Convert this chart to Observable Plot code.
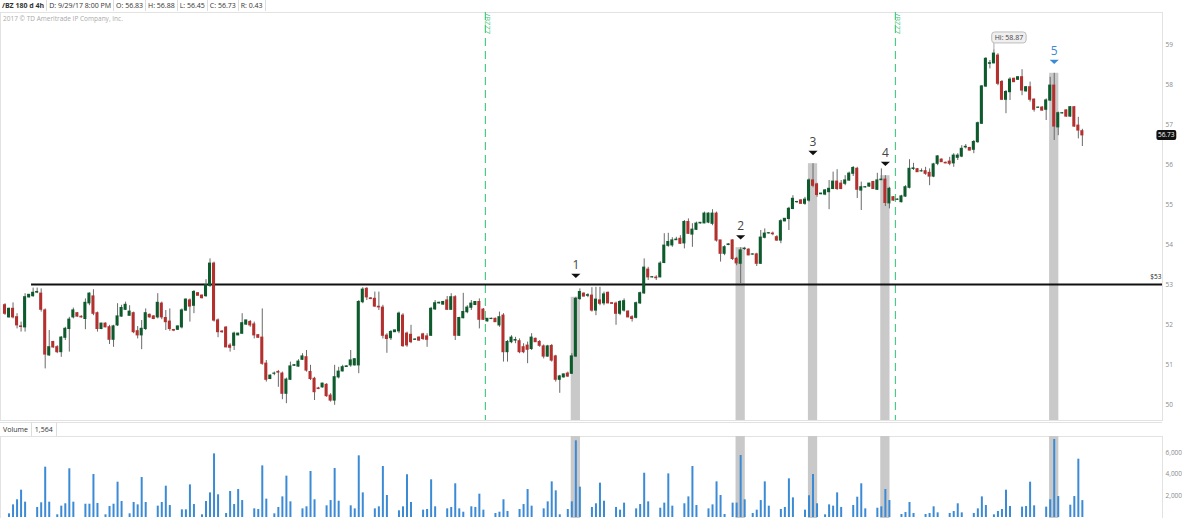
<!DOCTYPE html>
<html><head><meta charset="utf-8">
<script src="https://cdn.jsdelivr.net/npm/d3@7"></script>
<script src="https://cdn.jsdelivr.net/npm/@observablehq/plot@0.6"></script>
<style>
body{margin:0;background:#fff;font-family:"Open Sans",sans-serif;}
#wrap{position:relative;width:1200px;height:518px;overflow:hidden;background:#fff}
.abs{position:absolute;left:0}
#hdr{top:0;height:11px;display:flex;font-size:7px;color:#333;line-height:11px}
#hdr span{padding:0 2px;border-right:1px solid #ddd;white-space:nowrap}
#hdr span.b{font-weight:bold}
#copy{top:14px;left:3px;font-size:6.5px;color:#aaa;white-space:nowrap}
#volhdr{top:422px;height:13px;width:1162px;display:flex;font-size:7px;color:#333;line-height:13px;border-top:1px solid #e2e2e2;border-bottom:1px solid #e2e2e2;background:#fff}
#volhdr span{padding:0 3px;border-right:1px solid #ddd}
</style></head><body><div id="wrap"></div><script>
// ---------------- data ----------------
const open = [52.48,52.18,52.39,52.18,51.95,51.93,52.68,52.71,52.80,52.77,
52.35,51.23,51.56,51.43,51.31,51.67,51.89,52.18,52.28,52.19,
52.14,52.53,52.70,52.28,51.89,52.02,51.93,51.62,51.98,52.20,
52.37,52.22,52.28,51.83,51.73,51.89,52.24,52.20,52.18,52.52,
52.16,52.07,51.86,51.87,51.93,52.35,52.60,52.47,52.78,52.72,
52.71,52.97,53.52,52.10,51.82,51.92,51.47,51.47,51.73,51.77,
52.00,52.06,52.00,51.73,51.67,51.02,50.64,50.77,50.81,50.77,
50.27,50.62,50.97,50.95,51.12,51.18,50.81,50.64,50.40,50.43,
50.49,50.22,50.10,50.68,50.83,50.94,50.98,50.98,50.98,52.56,
52.89,52.65,52.64,52.44,52.42,51.72,51.66,51.81,51.83,52.22,
51.77,51.74,51.62,51.67,51.75,51.70,51.72,52.38,52.53,52.50,
52.60,52.37,52.68,51.72,52.16,52.31,52.42,52.49,52.56,52.37,
52.08,52.14,52.14,51.98,52.22,51.31,51.56,51.60,51.58,51.43,
51.47,51.39,51.64,51.56,51.45,51.20,51.46,51.20,50.62,50.68,
50.77,50.77,51.20,52.64,52.77,52.72,52.72,52.35,52.60,52.53,
52.79,52.53,52.52,52.27,52.35,52.32,52.18,52.17,52.53,52.78,
53.37,53.18,53.17,53.18,53.54,53.97,53.98,54.11,54.14,54.03,
54.56,54.25,54.37,54.53,54.53,54.55,54.52,54.77,54.10,53.77,
53.99,54.10,53.64,53.52,53.89,53.87,53.75,53.75,53.52,54.17,
54.28,54.27,54.18,54.10,54.58,54.64,54.89,55.06,55.10,55.02,
55.10,55.60,55.50,55.26,55.25,55.31,55.39,55.57,55.52,55.52,
55.60,55.77,55.89,55.35,55.43,55.45,55.56,55.37,55.61,55.62,
55.03,55.18,55.12,55.06,55.20,55.42,55.89,55.88,55.83,55.83,
55.79,55.70,56.02,56.12,56.04,56.07,56.03,56.17,56.20,56.43,
56.41,56.37,56.56,57.02,57.95,58.52,58.53,58.72,58.06,57.62,
57.81,58.14,58.12,58.18,57.83,57.93,57.62,57.42,57.42,57.37,
57.60,57.97,56.93,57.28,57.35,57.20,57.43,56.97,56.83];
const high = [52.52,52.41,52.54,52.27,52.06,52.77,52.74,52.91,52.91,52.89,
52.39,51.85,51.58,51.47,51.70,51.93,52.18,52.41,52.30,52.22,
52.64,52.79,52.87,52.31,52.03,52.04,51.98,51.98,52.52,52.48,
52.56,52.47,52.31,51.95,52.10,52.39,52.26,52.22,52.77,52.56,
52.35,52.39,51.88,51.96,52.39,52.64,52.64,52.85,52.80,52.74,
53.12,53.64,53.56,52.14,51.85,51.95,51.52,51.81,51.78,52.27,
52.10,52.10,52.06,51.75,52.39,51.10,50.74,50.81,50.85,50.81,
50.66,51.06,51.00,51.12,51.27,51.35,50.98,50.68,50.43,50.53,
50.52,50.27,50.98,50.93,50.98,50.97,51.35,51.14,52.60,52.92,
52.92,52.67,52.81,52.81,52.48,51.77,51.85,51.86,52.31,52.27,
51.81,51.98,51.65,51.69,51.78,51.77,52.43,52.60,52.56,52.58,
52.70,52.77,52.72,52.18,52.78,52.47,52.60,52.57,52.64,52.40,
52.15,52.16,52.16,52.31,52.27,51.60,51.72,51.68,51.64,51.52,
51.56,51.77,51.66,51.60,51.49,51.48,51.50,51.23,50.73,50.76,
50.81,51.27,52.68,52.89,52.79,52.77,52.92,52.93,52.93,52.81,
52.81,52.55,52.56,52.60,52.64,52.34,52.22,52.56,52.81,53.64,
53.43,53.20,53.22,53.57,54.27,54.28,54.17,54.18,54.22,54.60,
54.64,54.52,54.56,54.55,54.81,54.79,54.87,54.81,54.10,53.97,
54.02,54.12,53.68,53.92,53.93,53.89,53.77,53.78,54.35,54.39,
54.30,54.31,54.22,54.62,54.65,54.93,55.22,55.08,55.12,55.18,
55.64,56.02,55.53,55.28,55.37,55.60,55.81,55.87,55.60,55.72,
55.81,55.95,55.93,55.56,55.45,55.53,55.58,55.78,55.89,55.72,
55.43,55.20,55.14,55.23,55.47,56.12,56.03,55.90,55.89,55.93,
55.89,56.03,56.22,56.14,56.06,56.18,56.27,56.27,56.47,56.50,
56.43,56.60,57.06,57.97,58.67,58.60,58.87,58.77,58.10,57.85,
58.17,58.16,58.19,58.37,57.95,58.06,57.64,57.44,57.45,57.64,
58.18,58.28,57.31,57.30,57.37,57.45,57.45,57.18,56.88];
const low = [52.23,52.16,52.14,51.89,51.81,51.81,52.66,52.68,52.77,52.31,
50.89,51.20,51.40,51.27,51.18,51.60,51.31,52.14,52.18,52.16,
51.87,52.47,52.22,51.81,51.87,51.92,51.50,51.43,51.95,52.18,
52.35,52.22,51.77,51.64,51.37,51.85,52.16,52.12,52.14,52.12,
51.85,51.83,51.82,51.85,51.89,52.33,52.06,52.27,52.72,52.64,
52.68,52.93,52.06,51.67,51.78,51.42,51.31,51.35,51.72,51.77,
51.98,51.93,51.64,51.66,50.98,50.56,50.62,50.72,50.43,50.12,
50.02,50.60,50.95,50.93,51.10,50.81,50.60,50.10,50.37,50.41,
50.18,50.06,49.98,50.64,50.81,50.93,50.93,50.96,50.77,52.52,
52.60,52.62,52.43,52.35,51.64,51.28,51.60,51.80,51.77,51.43,
51.43,51.52,51.60,51.58,51.60,51.43,51.70,52.35,52.51,52.48,
52.35,52.35,51.60,51.70,52.14,52.27,52.35,52.47,51.89,52.10,
52.06,52.12,52.05,51.93,51.06,51.06,51.52,51.52,51.27,51.27,
51.02,51.35,51.55,51.43,51.14,51.18,51.06,50.56,50.28,50.66,
50.68,50.75,51.18,52.60,52.69,52.67,52.31,52.22,52.47,52.47,
52.52,52.50,51.98,52.22,52.31,52.17,52.06,52.14,52.50,52.75,
53.10,53.16,53.10,53.17,53.52,53.93,53.93,54.10,54.00,53.89,
54.25,53.93,54.35,54.51,54.52,54.52,54.47,54.06,53.56,53.72,
53.97,53.60,53.47,53.02,53.85,53.72,53.73,53.45,53.50,54.14,
54.26,54.22,54.08,54.02,54.57,54.35,54.87,55.03,55.00,54.98,
55.06,55.42,55.18,55.24,55.22,54.87,55.37,55.35,55.37,55.47,
55.58,55.70,55.15,54.85,55.41,55.43,55.38,55.35,55.60,54.95,
54.89,55.08,55.10,55.04,55.18,55.39,55.85,55.80,55.81,55.73,
55.47,55.67,55.97,56.05,56.02,55.97,55.93,56.10,56.17,56.39,
56.34,56.27,56.53,57.00,57.93,58.39,58.52,57.97,57.60,57.27,
57.60,58.05,58.10,57.72,57.81,57.56,57.31,57.40,57.33,57.10,
57.58,56.60,56.72,57.26,57.18,57.18,56.93,56.64,56.45];
const close = [52.27,52.39,52.18,51.98,51.94,52.68,52.74,52.79,52.81,52.37,
51.25,51.43,51.43,51.31,51.67,51.89,52.12,52.35,52.20,52.18,
52.54,52.77,52.27,51.89,52.02,51.93,51.62,51.95,52.20,52.41,
52.49,52.32,51.81,51.73,51.89,52.28,52.18,52.14,52.54,52.18,
52.06,51.89,51.85,51.95,52.35,52.62,52.45,52.81,52.72,52.66,
52.98,53.52,52.10,51.81,51.81,51.43,51.42,51.77,51.77,52.03,
52.10,51.98,51.73,51.67,51.02,50.62,50.72,50.77,50.80,50.27,
50.62,50.95,50.98,51.07,51.20,50.85,50.64,50.31,50.39,50.52,
50.21,50.10,50.68,50.82,50.93,50.95,51.10,51.13,52.56,52.87,
52.68,52.64,52.45,52.43,51.72,51.64,51.81,51.85,52.27,51.46,
51.48,51.56,51.62,51.60,51.64,51.62,52.39,52.53,52.54,52.56,
52.37,52.68,51.72,52.16,52.31,52.42,52.52,52.56,52.12,52.12,
52.14,52.14,52.06,52.18,51.31,51.56,51.67,51.61,51.31,51.31,
51.37,51.67,51.56,51.47,51.20,51.45,51.10,50.62,50.70,50.75,
50.70,51.20,52.64,52.81,52.70,52.73,52.35,52.62,52.52,52.75,
52.53,52.52,52.27,52.56,52.58,52.18,52.14,52.53,52.78,53.42,
53.18,53.18,53.16,53.52,53.97,54.06,54.10,54.12,54.02,54.56,
54.27,54.37,54.52,54.54,54.77,54.77,54.77,54.10,53.77,53.93,
54.00,53.64,53.53,53.85,53.89,53.73,53.75,53.52,54.17,54.27,
54.28,54.26,54.10,54.58,54.64,54.89,55.14,55.06,55.02,55.12,
55.60,55.47,55.24,55.27,55.35,55.39,55.57,55.39,55.39,55.60,
55.77,55.91,55.37,55.43,55.43,55.52,55.39,55.60,55.62,55.04,
55.39,55.10,55.12,55.20,55.43,55.89,55.90,55.81,55.83,55.77,
55.70,56.00,56.20,56.06,56.03,56.02,56.22,56.22,56.39,56.44,
56.35,56.56,57.03,57.95,58.64,58.53,58.77,58.02,57.62,57.81,
58.12,58.06,58.18,57.85,57.93,57.62,57.37,57.42,57.35,57.60,
57.97,56.95,57.28,57.28,57.20,57.43,56.95,56.85,56.73];
const volume = [0,340,1170,1640,2530,1420,0,0,930,1360,
4660,1420,0,250,1050,1270,4510,1420,0,0,
1230,1230,3980,1300,0,250,1020,1230,3270,1480,
0,340,1390,1170,3700,1390,0,0,1050,1390,
2900,1110,0,0,710,710,3020,1200,0,250,
1480,2280,5890,2100,0,370,2410,1200,2590,1570,
0,0,800,740,4780,1700,0,340,930,1910,
3830,1450,0,0,800,990,4260,1640,0,0,
1080,1570,4540,1510,0,0,1080,800,5710,2280,
0,0,800,990,4720,2040,0,0,620,990,
3950,1390,0,0,680,740,3490,990,0,0,
800,930,3120,800,490,0,990,930,2160,680,
0,0,370,490,1640,560,0,0,740,1200,
2590,1050,0,0,800,1450,3300,2470,250,0,
740,1450,7100,2810,0,0,930,1270,3180,1510,
0,0,930,680,1330,0,0,800,1200,4100,
1450,0,0,860,1330,4040,1050,0,0,1270,
1910,4720,1110,0,0,800,1170,3300,2040,280,
0,1330,1330,5740,1640,0,370,680,1570,3300,
1050,0,0,740,930,3580,1820,0,0,680,
2010,3980,1270,0,250,1170,1050,2280,930,0,
0,1110,1880,3120,800,0,0,860,990,2590,
1570,0,0,280,460,1390,370,0,0,280,
370,990,430,0,0,370,560,1270,430,0,
0,370,800,1910,1110,0,250,560,740,2530,
1030,0,0,960,1020,3270,1080,0,0,960,
1640,7220,1940,0,0,1140,1940,5400,1564];
const symbolName = "/BZ 180 d 4h";
const lastDate = "9/29/17 8:00 PM";
const copyright = "2017 \u00a9 TD Ameritrade IP Company, Inc.";
const markerBars = [142, 183, 201, 219, 261];
const markerPrices = [53.22, 54.18, 56.29, 56.02, 58.57];
const markerLabels = ["1", "2", "3", "4", "5"];
const rollovers = [119.5, 221.5];
const rolloverLabel = "/BZZ7";
const supportLevel = 53;
const supportStartBar = 6.6;
const priceTicks = [50, 51, 52, 53, 54, 55, 56, 57, 58, 59];
const volumeTicks = [2000, 4000, 6000];

// ---------------- layout / style ----------------
const N = close.length;
const X0 = 4.5, DX = 4.02, RIGHT = 38, W = 1200;
const GREEN = "#0d5a2c", RED = "#b3302f", WICK = "#6a6a6a", HIL = "#c9c9c9", BLUE = "#3b8ad6", ROLL = "#4cc985";
const bars = d3.range(N).map(i => ({i, o: open[i], h: high[i], l: low[i], c: close[i], v: volume[i]}));
const xOpts = {type: "linear", domain: [0, N - 1], range: [X0, X0 + (N - 1) * DX], axis: null};
const xRight = (W - RIGHT - X0) / DX;
const yDom = [49.6, 59.8];
const hiIdx = d3.maxIndex(high);
const markers = markerBars.map((b, k) => ({i: b, p: markerPrices[k], label: markerLabels[k], col: k === 4 ? BLUE : "#111", tcol: k === 4 ? BLUE : "#444"}));

const flatTri = {draw(ctx, size) { const r = Math.sqrt(size / Math.PI); ctx.moveTo(-r, -r * 0.45); ctx.lineTo(r, -r * 0.45); ctx.lineTo(0, r * 0.5); ctx.closePath(); }};

const wrap = document.getElementById("wrap");

// header
const hdr = document.createElement("div");
hdr.id = "hdr"; hdr.className = "abs";
const cells = [symbolName, "D: " + lastDate, "O: " + open[N-1].toFixed(2), "H: " + high[N-1].toFixed(2),
  "L: " + low[N-1].toFixed(2), "C: " + close[N-1].toFixed(2), "R: " + (high[N-1] - low[N-1]).toFixed(2)];
cells.forEach((t, k) => { const s = document.createElement("span"); s.textContent = t; if (k === 0) s.className = "b"; hdr.appendChild(s); });
wrap.appendChild(hdr);
const cp = document.createElement("div"); cp.id = "copy"; cp.className = "abs"; cp.textContent = copyright; wrap.appendChild(cp);

// price panel
const price = Plot.plot({
  width: W, height: 420, marginTop: 12, marginBottom: 0, marginLeft: 0, marginRight: RIGHT,
  x: xOpts,
  y: {domain: yDom, range: [420, 12], axis: null},
  style: {fontFamily: "Open Sans", fontSize: "6.5px", background: "transparent", overflow: "visible"},
  marks: [
    Plot.frame({stroke: "#e2e2e2"}),
    Plot.rect(markerBars, {x1: d => d - 1.15, x2: d => d + 1.15, y1: d => high[d], y2: yDom[0], fill: HIL}),
    Plot.ruleX(rollovers, {x: d => d, stroke: ROLL, strokeWidth: 1.2, strokeDasharray: "8,5"}),
    Plot.text(rollovers, {x: d => d, frameAnchor: "top", text: () => rolloverLabel, rotate: 90, textAnchor: "start", dx: 5, dy: 1, fill: ROLL, fontSize: 7.5}),
    Plot.ruleY([supportLevel], {x1: supportStartBar, x2: xRight, stroke: "#111", strokeWidth: 2}),
    Plot.text([supportLevel], {y: d => d, frameAnchor: "right", text: d => "$" + d, dx: -1, dy: -8, textAnchor: "end", fill: "#222", fontSize: 6.5}),
    Plot.ruleX(bars, {x: "i", y1: "l", y2: "h", stroke: WICK, strokeWidth: 1}),
    Plot.rect(bars, {x1: d => d.i - 0.38, x2: d => d.i + 0.38, y1: d => Math.min(d.o, d.c), y2: d => Math.max(d.o, d.c),
      fill: d => d.c >= d.o ? GREEN : RED, insetTop: -0.6, insetBottom: -0.6}),
    Plot.dot(markers, {x: "i", y: "p", symbol: flatTri, r: 4.6, fill: "col", stroke: null}),
    Plot.text(markers, {x: "i", y: "p", text: "label", dy: -11, fontSize: 12, fill: "tcol"}),
    Plot.ruleX([hiIdx], {x: d => d, y1: d => high[d], y2: d => high[d] + 0.16, stroke: "#aaa", strokeWidth: 1}),
    Plot.text([hiIdx], {x: d => d, y: d => high[d], text: d => "Hi: " + high[d].toFixed(2), dx: 15, dy: -12, fontSize: 7, fill: "#444", ariaDescription: "hi-label"}),
    Plot.axisY(priceTicks, {anchor: "right", tickSize: 0, tickPadding: 3, color: "#8a8a8a", fontSize: 6.5, label: null}),
    Plot.text([close[N - 1]], {y: d => d, frameAnchor: "right", text: d => d.toFixed(2), dx: 12, fill: "#fff", fontSize: 6.5, ariaDescription: "last-label"})
  ]
});
const pd = document.createElement("div"); pd.className = "abs"; pd.style.top = "0px"; pd.appendChild(price); wrap.appendChild(pd);

// volume header
const vh = document.createElement("div"); vh.id = "volhdr"; vh.className = "abs";
["Volume", d3.format(",")(volume[N - 1])].forEach(t => { const s = document.createElement("span"); s.textContent = t; vh.appendChild(s); });
wrap.appendChild(vh);

// volume panel
const vol = Plot.plot({
  width: W, height: 98, marginTop: 16, marginBottom: 0, marginLeft: 0, marginRight: RIGHT,
  x: xOpts,
  y: {domain: [0, 7500], range: [97, 16], axis: null, label: null},
  style: {fontFamily: "Open Sans", fontSize: "6.5px", background: "transparent", overflow: "visible"},
  marks: [
    Plot.frame({stroke: "#e2e2e2"}),
    Plot.rect(markerBars, {x1: d => d - 1.15, x2: d => d + 1.15, fill: HIL}),
    Plot.ruleX(bars, {x: "i", y: "v", stroke: BLUE, strokeWidth: 2}),
    Plot.axisY(volumeTicks, {anchor: "right", tickSize: 0, tickPadding: 3, tickFormat: d3.format(","), color: "#8a8a8a", fontSize: 6.5, label: null})
  ]
});
const vd = document.createElement("div"); vd.className = "abs"; vd.style.top = "420px"; vd.appendChild(vol); wrap.appendChild(vd);

// boxes behind labels
function boxBehind(svg, label, fill, stroke, px, py, rx) {
  svg.querySelectorAll(`g[aria-description="${label}"] text`).forEach(t => {
    const b = t.getBBox();
    const r = document.createElementNS("http://www.w3.org/2000/svg", "rect");
    if (t.getAttribute("transform")) r.setAttribute("transform", t.getAttribute("transform"));
    r.setAttribute("x", b.x - px); r.setAttribute("y", b.y - py);
    r.setAttribute("width", b.width + 2 * px); r.setAttribute("height", b.height + 2 * py);
    r.setAttribute("rx", rx); r.setAttribute("fill", fill);
    if (stroke) { r.setAttribute("stroke", stroke); r.setAttribute("stroke-width", 1); }
    t.parentNode.insertBefore(r, t);
  });
}
boxBehind(price, "hi-label", "#efefef", "#bdbdbd", 3, 1, 3);
boxBehind(price, "last-label", "#111", null, 1.5, 0.5, 2);
</script></body></html>
